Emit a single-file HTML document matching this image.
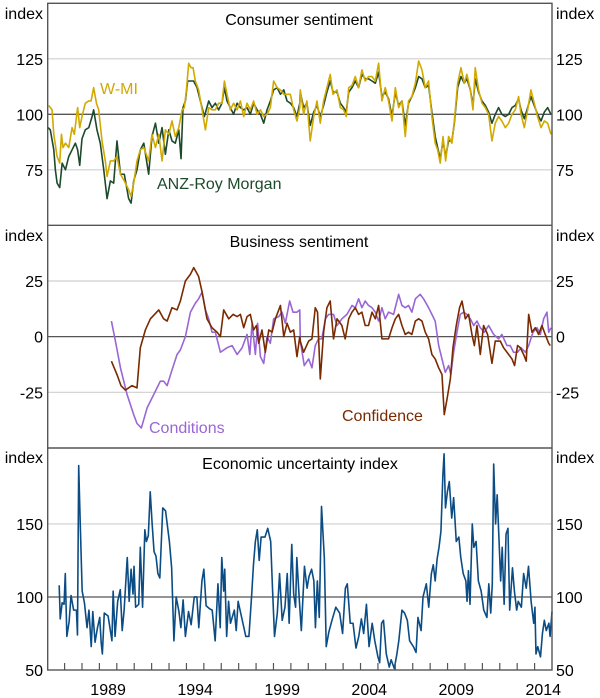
<!DOCTYPE html>
<html><head><meta charset="utf-8">
<style>
html,body{margin:0;padding:0;background:#fff;}
svg{display:block;font-family:"Liberation Sans",Arial,sans-serif;}
</style></head>
<body>
<svg id="chart" width="600" height="698" viewBox="0 0 600 698">
<g id="grid"></g>
<g id="series"></g>
<g id="frame"></g>
<g id="labels" font-size="16" fill="#000"></g>
</svg>
<script>
// ---------- DATA ----------
const xTickYears = [1987,1988,1989,1990,1991,1992,1993,1994,1995,1996,1997,1998,1999,2000,2001,2002,2003,2004,2005,2006,2007,2008,2009,2010,2011,2012,2013,2014];
const xLabelYears = [1989,1994,1999,2004,2009,2014];
const consumerTicks = [75,100,125];
const businessTicks = [-25,0,25];
const uncertaintyTicks = [50,100,150];

const wmiEarlyDates = [1986.09,1986.28,1986.38,1986.57,1986.72,1986.82,1986.91,1987.05,1987.24,1987.43,1987.56,1987.75,1987.87,1988.00,1988.19,1988.39,1988.52,1988.67,1988.83,1988.96,1989.15,1989.34,1989.44,1989.63,1989.82,1990.01,1990.21,1990.43,1990.68,1990.82,1990.97,1991.16,1991.35,1991.55,1991.83,1992.02,1992.22,1992.41,1992.60,1992.79,1992.99,1993.17,1993.36,1993.56,1993.75,1993.88,1994.00,1994.13,1994.26,1994.38,1994.51,1994.70,1994.90,1995.09,1995.28,1995.47,1995.66,1995.85,1996.04,1996.18,1996.33,1996.52,1996.71,1996.91,1997.10,1997.29,1997.48,1997.67,1997.86,1998.06,1998.25,1998.44,1998.63,1998.82,1999.01,1999.21,1999.40,1999.59,1999.78,1999.97,2000.16,2000.35,2000.51];
const wmiEarlyValues = [104,102,91,81,78,91,85,87,85,94,91,103,94,99,105,106,106,112,105,102,88,79,72,79,79,81,73,70,66,63,69,79,84,85,79,91,85,91,79,93,91,97,90,94,102,103,111,123,121,121,115,111,102,93,103,102,102,105,105,115,109,102,105,102,106,99,105,102,106,100,102,99,100,103,115,112,111,109,109,109,102,97,103];

const anzEarlyDates = [1986.05,1986.18,1986.38,1986.47,1986.57,1986.72,1986.86,1987.05,1987.24,1987.43,1987.62,1987.75,1987.87,1988.00,1988.19,1988.39,1988.58,1988.67,1988.86,1989.05,1989.25,1989.44,1989.63,1989.82,1990.01,1990.21,1990.43,1990.68,1990.82,1990.97,1991.16,1991.35,1991.55,1991.83,1992.02,1992.22,1992.41,1992.60,1992.79,1992.99,1993.17,1993.36,1993.56,1993.69,1993.80,1993.94,1994.07,1994.22,1994.41,1994.61,1994.80,1995.03,1995.28,1995.47,1995.66,1995.85,1996.04,1996.18,1996.33,1996.52,1996.71,1996.91,1997.10,1997.29,1997.48,1997.67,1997.86,1998.06,1998.25,1998.44,1998.63,1998.82,1999.01,1999.21,1999.40,1999.59,1999.78,1999.97,2000.16,2000.35,2000.51];
const anzEarlyValues = [94,93,84,75,69,67,78,75,81,84,87,84,77,89,93,94,99,102,93,87,75,62,70,69,88,73,73,62,60,70,75,84,87,73,90,96,87,94,82,93,88,87,93,80,103,106,115,115,115,112,106,99,106,103,105,102,105,112,106,103,100,105,103,102,103,100,105,102,100,96,102,106,111,112,109,111,106,105,103,99,105];

const consumerLateDates = [2000.54,2000.73,2000.92,2001.11,2001.31,2001.50,2001.69,2001.88,2002.07,2002.26,2002.42,2002.65,2002.84,2003.03,2003.18,2003.32,2003.51,2003.70,2003.89,2004.08,2004.27,2004.46,2004.66,2004.85,2005.04,2005.23,2005.42,2005.61,2005.81,2006.00,2006.19,2006.38,2006.57,2006.76,2006.95,2007.15,2007.34,2007.53,2007.72,2007.91,2008.10,2008.29,2008.43,2008.58,2008.74,2008.89,2009.06,2009.25,2009.39,2009.58,2009.77,2009.96,2010.11,2010.31,2010.46,2010.59,2010.78,2010.98,2011.17,2011.36,2011.55,2011.74,2011.93,2012.12,2012.32,2012.51,2012.70,2012.89,2013.08,2013.22,2013.41,2013.60,2013.79,2013.98,2014.17,2014.37,2014.56,2014.75,2014.94];
const wmiLateValues = [111,100,106,88,99,106,96,106,112,118,109,111,103,102,99,112,113,117,112,120,115,117,117,115,123,106,112,106,97,112,103,106,90,106,108,114,124,120,112,115,99,87,84,78,90,79,90,87,97,114,121,114,118,111,102,121,111,105,103,100,88,96,99,97,94,96,100,102,108,100,94,102,111,105,99,94,97,96,91];
const anzLateValues = [110,103,105,95,101,104,99,104,110,115,110,110,105,103,101,110,112,115,112,118,116,116,115,114,119,108,110,107,99,110,104,106,95,105,108,112,117,116,112,113,101,90,85,80,88,81,88,88,96,112,117,114,116,111,104,116,110,106,104,101,96,100,103,100,99,100,103,104,107,102,98,103,108,104,100,97,101,103,100];

const confidenceDates = [1989.69,1990.01,1990.24,1990.49,1990.87,1991.16,1991.35,1991.64,1991.93,1992.41,1992.69,1992.89,1993.17,1993.46,1993.65,1993.94,1994.23,1994.42,1994.70,1994.90,1995.18,1995.47,1995.76,1995.95,1996.14,1996.43,1996.68,1996.91,1997.10,1997.29,1997.48,1997.67,1997.86,1998.02,1998.15,1998.34,1998.53,1998.73,1998.92,1999.11,1999.40,1999.59,1999.78,1999.97,2000.16,2000.35,2000.51,2000.54,2000.73,2001.02,2001.21,2001.40,2001.53,2001.69,2001.88,2002.07,2002.26,2002.45,2002.65,2002.93,2003.12,2003.32,2003.51,2003.70,2003.89,2004.08,2004.27,2004.46,2004.66,2004.85,2005.04,2005.23,2005.42,2005.61,2005.81,2006.00,2006.19,2006.38,2006.57,2006.76,2006.95,2007.15,2007.34,2007.53,2007.72,2007.91,2008.10,2008.29,2008.49,2008.68,2008.81,2008.97,2009.16,2009.31,2009.50,2009.69,2009.83,2010.02,2010.21,2010.40,2010.54,2010.69,2010.88,2011.07,2011.30,2011.55,2011.74,2012.03,2012.22,2012.51,2012.70,2012.85,2013.02,2013.18,2013.37,2013.52,2013.66,2013.85,2014.04,2014.23,2014.42,2014.61,2014.81,2014.90];
const confidenceValues = [-11,-17,-22,-24,-22,-23,-5,3,8,12,8,7,13,12,16,25,28,31,27,20,8,4,2,0,12,8,10,9,10,4,9,10,3,5,-3,3,-7,3,2,8,14,0,6,2,3,-9,0,-2,-7,-2,-1,13,11,-19,2,13,16,-1,8,5,-1,8,11,13,10,11,5,5,11,8,14,-1,-1,-1,4,8,10,5,1,2,1,7,8,7,2,-1,-8,-10,-14,-17,-35,-28,-19,-5,5,13,16,8,10,1,-4,5,-8,5,1,-12,-2,-2,-5,-8,-10,-13,-4,-5,-8,-11,10,2,4,1,5,1,-3,-4];

const conditionsDates = [1989.69,1989.92,1990.21,1990.59,1990.97,1991.16,1991.41,1991.74,1992.12,1992.50,1992.69,1992.89,1993.17,1993.46,1993.65,1993.94,1994.23,1994.51,1994.70,1994.90,1995.09,1995.28,1995.47,1995.66,1995.95,1996.33,1996.62,1996.91,1997.20,1997.48,1997.64,1997.77,1997.96,1998.09,1998.25,1998.44,1998.63,1998.82,1999.01,1999.30,1999.49,1999.68,1999.93,2000.12,2000.35,2000.51,2000.54,2000.77,2001.02,2001.21,2001.40,2001.59,2001.78,2001.98,2002.17,2002.45,2002.65,2002.93,2003.22,2003.51,2003.70,2003.89,2004.08,2004.27,2004.46,2004.66,2004.85,2005.04,2005.23,2005.42,2005.61,2005.90,2006.19,2006.38,2006.57,2006.76,2006.95,2007.15,2007.43,2007.62,2007.91,2008.10,2008.29,2008.49,2008.68,2008.87,2009.06,2009.19,2009.35,2009.54,2009.73,2009.92,2010.11,2010.31,2010.50,2010.69,2010.88,2011.11,2011.36,2011.65,2011.93,2012.12,2012.41,2012.60,2012.79,2013.02,2013.22,2013.47,2013.66,2013.91,2014.14,2014.33,2014.52,2014.71,2014.81,2014.94];
const conditionsValues = [7,-2,-14,-26,-35,-39,-41,-32,-26,-20,-20,-22,-15,-8,-6,0,11,15,17,20,12,8,2,2,-7,-5,-4,-8,-5,1,-8,6,-8,6,-9,-12,0,-3,8,9,11,6,16,11,11,12,-2,-13,-10,-14,-4,-1,-1,8,10,10,5,8,10,14,13,17,13,16,14,13,11,7,13,8,11,10,19,14,13,14,11,17,19,17,13,10,7,-4,-10,-16,-13,-17,-7,2,10,11,10,8,5,7,4,2,5,1,-1,1,-4,-4,-7,-7,-5,-7,-4,2,4,1,8,11,2,4];

const uncertaintyDates = [1986.69,1986.75,1986.86,1986.97,1987.04,1987.13,1987.26,1987.37,1987.52,1987.68,1987.74,1987.81,1987.90,1988.01,1988.14,1988.29,1988.40,1988.53,1988.62,1988.75,1988.89,1989.02,1989.10,1989.17,1989.28,1989.50,1989.72,1989.79,1989.90,1990.05,1990.20,1990.31,1990.42,1990.60,1990.71,1990.82,1990.93,1990.99,1991.08,1991.26,1991.35,1991.48,1991.61,1991.70,1991.81,1991.92,1992.03,1992.14,1992.25,1992.36,1992.47,1992.64,1992.80,1993.02,1993.15,1993.28,1993.41,1993.57,1993.68,1993.81,1993.94,1994.12,1994.27,1994.45,1994.60,1994.71,1994.89,1995.00,1995.13,1995.32,1995.48,1995.65,1995.81,1995.94,1996.03,1996.14,1996.20,1996.31,1996.42,1996.53,1996.75,1996.86,1996.97,1997.08,1997.30,1997.41,1997.59,1997.74,1997.85,1997.96,1998.07,1998.18,1998.29,1998.51,1998.67,1998.84,1998.95,1999.06,1999.22,1999.35,1999.50,1999.66,1999.79,1999.90,2000.05,2000.16,2000.27,2000.34,2000.49,2000.60,2000.78,2000.93,2001.04,2001.19,2001.32,2001.41,2001.52,2001.63,2001.76,2001.92,2002.03,2002.18,2002.36,2002.58,2002.80,2002.97,2003.13,2003.24,2003.41,2003.57,2003.74,2003.90,2004.05,2004.18,2004.34,2004.49,2004.67,2004.82,2005.00,2005.10,2005.21,2005.32,2005.48,2005.65,2005.76,2005.94,2006.09,2006.20,2006.38,2006.53,2006.69,2006.82,2007.04,2007.19,2007.30,2007.48,2007.59,2007.78,2007.92,2008.07,2008.18,2008.29,2008.40,2008.51,2008.62,2008.73,2008.80,2008.88,2008.99,2009.10,2009.24,2009.35,2009.50,2009.65,2009.76,2009.90,2010.05,2010.12,2010.20,2010.29,2010.42,2010.51,2010.64,2010.77,2010.93,2011.08,2011.26,2011.37,2011.48,2011.57,2011.65,2011.76,2011.85,2011.96,2012.05,2012.14,2012.25,2012.36,2012.47,2012.57,2012.73,2012.84,2012.97,2013.06,2013.24,2013.37,2013.52,2013.65,2013.80,2013.95,2014.02,2014.08,2014.18,2014.34,2014.45,2014.56,2014.67,2014.82,2014.89,2015.00];
const uncertaintyValues = [108,85,96,95,116,73,83,101,91,91,74,190,150,104,96,79,91,66,90,69,79,86,69,61,89,87,70,104,73,97,105,77,91,127,97,119,102,121,93,95,134,93,146,138,142,172,150,131,128,116,113,161,159,138,120,70,100,90,79,98,73,90,81,100,100,79,111,119,94,92,91,70,109,79,127,104,119,73,97,82,91,77,97,91,79,73,73,100,122,138,146,125,141,141,147,138,104,73,89,116,84,93,116,82,136,102,93,127,97,77,121,106,114,119,111,79,111,86,162,127,66,76,84,93,89,75,106,109,82,82,65,73,85,75,95,66,82,70,59,55,82,84,61,52,57,51,61,70,91,89,84,70,66,62,86,77,100,109,93,116,122,111,126,134,145,183,198,161,172,179,154,168,138,141,127,116,111,97,118,95,150,134,138,111,104,91,86,109,89,109,191,150,170,138,111,134,95,143,147,91,120,104,91,97,93,116,106,121,97,82,93,61,66,59,75,84,77,82,73,90];

// ---------- SCALES ----------
const X0 = 47.7, X1 = 552, Y_MIN = 1986.03, Y_MAX = 2015.0;
function xs(yr){ return X0 + (yr - Y_MIN) / (Y_MAX - Y_MIN) * (X1 - X0); }
function mkY(vmin, vmax, pBottom, pTop){ return v => pBottom - (v - vmin) / (vmax - vmin) * (pBottom - pTop); }
const yTop = mkY(50, 150, 225.3, 3.3);
const yMid = mkY(-50, 50, 448, 225.3);
const yBot = mkY(50, 202, 670, 448);

const NS = "http://www.w3.org/2000/svg";
function el(tag, attrs, parent){ const e = document.createElementNS(NS, tag); for (const k in attrs) e.setAttribute(k, attrs[k]); parent.appendChild(e); return e; }
const grid = document.getElementById('grid');
const series = document.getElementById('series');
const frame = document.getElementById('frame');
const labels = document.getElementById('labels');

function addLine(v, yfn, strong){
  const yy = yfn(v);
  const ln = el('line', {x1:X0, x2:X1, y1:yy, y2:yy, stroke: strong ? '#555' : '#cfcfcf', 'stroke-width': strong ? 1.3 : 1.2}, grid);
  
  
}
function addTickLabels(ticks, yfn, panel){
  ticks.forEach(v => {
    const yy = yfn(v) + 6;
    const l = el('text', {x:43, y:yy, 'text-anchor':'end'}, labels);
    l.textContent = v;
    
    
    const r = el('text', {x:556, y:yy}, labels);
    r.textContent = v;
    
    
  });
}
function addText(txt, x, y, anchor, fill, name){
  const t = el('text', {x:x, y:y, 'text-anchor':anchor, fill:fill}, labels);
  t.textContent = txt;
  
  
}
function drawSeries(dates, values, yfn, color, name){
  let d = '';
  for (let i = 0; i < dates.length; i++) d += (i ? 'L' : 'M') + xs(dates[i]).toFixed(2) + ' ' + yfn(values[i]).toFixed(2);
  const p = el('path', {d:d, fill:'none', stroke:color, 'stroke-width':1.6, 'stroke-linejoin':'round'}, series);
  
  
}

// gridlines
[75,125].forEach(v => addLine(v, yTop, false)); addLine(100, yTop, true);
[-25,25].forEach(v => addLine(v, yMid, false)); addLine(0, yMid, true);
[150].forEach(v => addLine(v, yBot, false)); addLine(100, yBot, true);

// series
drawSeries(anzEarlyDates.concat(consumerLateDates), anzEarlyValues.concat(anzLateValues), yTop, '#1d4a2c', 'anz-roy-morgan-line');
drawSeries(wmiEarlyDates.concat(consumerLateDates), wmiEarlyValues.concat(wmiLateValues), yTop, '#d1a900', 'wmi-line');
drawSeries(conditionsDates, conditionsValues, yMid, '#9966d6', 'conditions-line');
drawSeries(confidenceDates, confidenceValues, yMid, '#7a2a00', 'confidence-line');
drawSeries(uncertaintyDates, uncertaintyValues, yBot, '#0b4c84', 'uncertainty-line');

// frame
const fr = el('rect', {x:X0, y:3.3, width:X1-X0, height:670-3.3, fill:'none', stroke:'#555', 'stroke-width':1.4}, frame);


[225.3, 448].forEach((yy, i) => {
  const s = el('line', {x1:X0, x2:X1, y1:yy, y2:yy, stroke:'#555', 'stroke-width':1.4}, frame);
  
  
});
xTickYears.forEach(yr => {
  const t = el('line', {x1:xs(yr), x2:xs(yr), y1:670, y2:663, stroke:'#555', 'stroke-width':1.2}, frame);
  
  
});
xLabelYears.forEach(yr => addText(String(yr), xs(yr + 0.5), 695, 'middle', '#000', 'x-label-' + yr));

// tick labels
addTickLabels(consumerTicks, yTop, 'consumer');
addTickLabels(businessTicks, yMid, 'business');
addTickLabels(uncertaintyTicks, yBot, 'uncertainty');

// unit labels
[[19,'consumer'],[241,'business'],[463,'uncertainty']].forEach(([yy, p]) => {
  addText('index', 43, yy, 'end', '#000', p + '-left-unit');
  addText('index', 556, yy, 'start', '#000', p + '-right-unit');
});

// titles
addText('Consumer sentiment', 299, 25, 'middle', '#000', 'consumer-title');
addText('Business sentiment', 299, 247, 'middle', '#000', 'business-title');
addText('Economic uncertainty index', 300, 469, 'middle', '#000', 'uncertainty-title');

// series labels
addText('W-MI', 100, 94, 'start', '#d1a900', 'wmi-label');
addText('ANZ-Roy Morgan', 157, 189, 'start', '#1d4a2c', 'anz-label');
addText('Conditions', 149, 433, 'start', '#9966d6', 'conditions-label');
addText('Confidence', 342, 421, 'start', '#7a2a00', 'confidence-label');
</script>
</body></html>
